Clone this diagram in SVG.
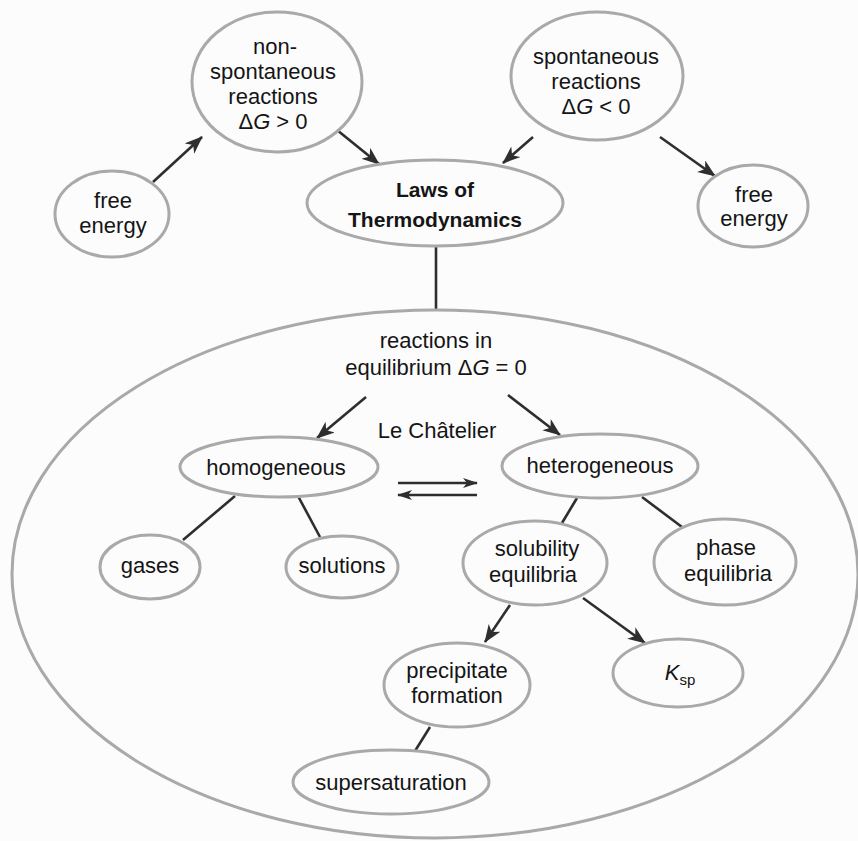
<svg xmlns="http://www.w3.org/2000/svg" width="858" height="841" viewBox="0 0 858 841">
<defs>
<style>
.n{fill:none;stroke:#a9a9a9;stroke-width:3}
.t{font-family:"Liberation Sans",Arial,sans-serif;font-size:22px;fill:#151515;text-anchor:middle}
.b{font-weight:bold;font-size:21px}
.c{stroke:#2e2e2e;stroke-width:2.6;fill:none}
.a{marker-end:url(#ah)}
</style>
<marker id="ah" markerUnits="userSpaceOnUse" markerWidth="20" markerHeight="16" refX="17" refY="7" orient="auto">
<path d="M0,0 L18,7 L0,14 L5,7 z" fill="#2e2e2e"/>
</marker>
<marker id="ah2" markerUnits="userSpaceOnUse" markerWidth="16" markerHeight="12" refX="14" refY="5" orient="auto">
<path d="M0,0 L15,5 L0,10 L4,5 z" fill="#2e2e2e"/>
</marker>
</defs>
<rect width="858" height="841" fill="#fcfcfc"/>

<g id="connectors">
<line class="c a" x1="153" y1="182" x2="202" y2="137"/>
<line class="c a" x1="337" y1="130" x2="379" y2="164"/>
<line class="c a" x1="533" y1="137" x2="503" y2="163"/>
<line class="c a" x1="660" y1="137" x2="715" y2="176"/>
<line class="c" x1="436" y1="246" x2="436" y2="310"/>
<line class="c a" x1="366" y1="397" x2="317" y2="438"/>
<line class="c a" x1="508" y1="395" x2="560" y2="435"/>
<line class="c" x1="235" y1="496" x2="183" y2="540"/>
<line class="c" x1="298" y1="496" x2="320" y2="537"/>
<line class="c" x1="577" y1="498" x2="562" y2="523"/>
<line class="c" x1="642" y1="497" x2="682" y2="527"/>
<line class="c a" x1="510" y1="605" x2="485" y2="642"/>
<line class="c a" x1="583" y1="598" x2="645" y2="643"/>
<line class="c" x1="430" y1="727" x2="415" y2="751"/>
<line class="c" x1="398" y1="483" x2="477" y2="483" marker-end="url(#ah2)"/>
<line class="c" x1="477" y1="495" x2="398" y2="495" marker-end="url(#ah2)"/>
</g>

<g id="equilibrium-region">
<ellipse class="n" cx="435" cy="574" rx="423" ry="264"/>
<text class="t" x="436" y="348">reactions in</text>
<text class="t" x="436" y="375">equilibrium Δ<tspan font-style="italic">G</tspan> = 0</text>
<text class="t" x="437" y="438">Le Châtelier</text>
</g>

<g id="non-spontaneous">
<ellipse class="n" cx="277" cy="82" rx="85" ry="70"/>
<text class="t" x="275" y="54">non-</text>
<text class="t" x="273" y="79">spontaneous</text>
<text class="t" x="273" y="104">reactions</text>
<text class="t" x="273" y="129">Δ<tspan font-style="italic">G</tspan> &gt; 0</text>
</g>

<g id="spontaneous">
<ellipse class="n" cx="597" cy="76" rx="86" ry="64"/>
<text class="t" x="596" y="64">spontaneous</text>
<text class="t" x="596" y="89">reactions</text>
<text class="t" x="596" y="114">Δ<tspan font-style="italic">G</tspan> &lt; 0</text>
</g>

<g id="free-energy-left">
<ellipse class="n" cx="112" cy="214" rx="57" ry="43"/>
<text class="t" x="113" y="208">free</text>
<text class="t" x="113" y="233">energy</text>
</g>

<g id="free-energy-right">
<ellipse class="n" cx="753" cy="206" rx="55" ry="41"/>
<text class="t" x="754" y="202">free</text>
<text class="t" x="754" y="226">energy</text>
</g>

<g id="laws">
<ellipse class="n" cx="435" cy="203" rx="128" ry="43"/>
<text class="t b" x="435" y="197">Laws of</text>
<text class="t b" x="435" y="227">Thermodynamics</text>
</g>

<g id="homogeneous">
<ellipse class="n" cx="279" cy="467" rx="99" ry="30"/>
<text class="t" x="276" y="475">homogeneous</text>
</g>

<g id="heterogeneous">
<ellipse class="n" cx="600" cy="466" rx="98" ry="32"/>
<text class="t" x="600" y="473">heterogeneous</text>
</g>

<g id="gases">
<ellipse class="n" cx="150" cy="567" rx="50" ry="32"/>
<text class="t" x="150" y="573">gases</text>
</g>

<g id="solutions">
<ellipse class="n" cx="342" cy="567" rx="56" ry="31"/>
<text class="t" x="342" y="573">solutions</text>
</g>

<g id="solubility">
<ellipse class="n" cx="535" cy="563" rx="72" ry="42"/>
<text class="t" x="537" y="556">solubility</text>
<text class="t" x="533" y="582">equilibria</text>
</g>

<g id="phase">
<ellipse class="n" cx="725" cy="562" rx="71" ry="43"/>
<text class="t" x="726" y="555">phase</text>
<text class="t" x="728" y="581">equilibria</text>
</g>

<g id="precipitate">
<ellipse class="n" cx="457" cy="685" rx="73" ry="42"/>
<text class="t" x="457" y="678">precipitate</text>
<text class="t" x="457" y="703">formation</text>
</g>

<g id="ksp">
<ellipse class="n" cx="678" cy="673" rx="65" ry="34"/>
<text class="t" x="680" y="680"><tspan font-style="italic">K</tspan><tspan font-size="15" dy="5">sp</tspan></text>
</g>

<g id="supersaturation">
<ellipse class="n" cx="391" cy="782" rx="98" ry="32"/>
<text class="t" x="391" y="790">supersaturation</text>
</g>
</svg>
